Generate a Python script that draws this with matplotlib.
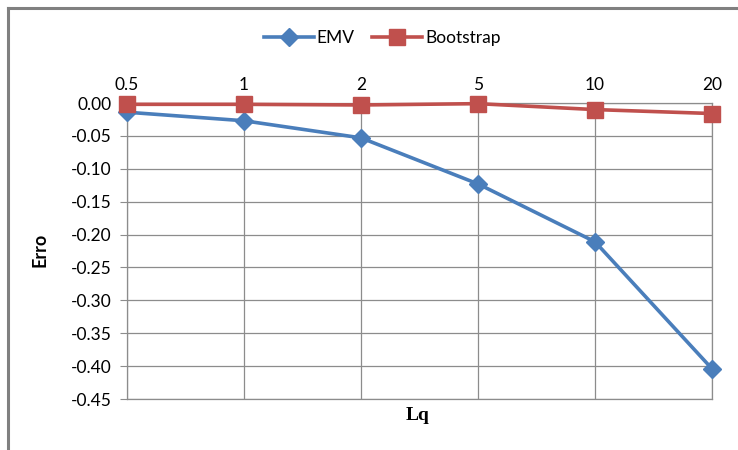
import matplotlib.pyplot as plt
from matplotlib.lines import Line2D

categories = ['0.5', '1', '2', '5', '10', '20']
emv = [-0.014, -0.027, -0.053, -0.123, -0.211, -0.404]
bootstrap = [-0.002, -0.002, -0.003, -0.001, -0.010, -0.016]
y_ticks = [0.00, -0.05, -0.10, -0.15, -0.20, -0.25, -0.30, -0.35, -0.40, -0.45]

grid_color = '#8c8c8c'
blue = '#4a7ebb'
red = '#c0504d'

fig = plt.figure(figsize=(7.38, 4.5), dpi=100)
ax = fig.add_axes([127 / 738, 1 - 399 / 450, (712 - 127) / 738, (399 - 103) / 450])

x = list(range(len(categories)))
ax.plot(x, emv, color=blue, lw=2.6, marker='D', ms=9, label='EMV', zorder=3, clip_on=False)
ax.plot(x, bootstrap, color=red, lw=2.6, marker='s', ms=11, label='Bootstrap', zorder=4, clip_on=False)

ax.set_xlim(0, len(categories) - 1)
ax.set_ylim(-0.45, 0.0)
ax.set_yticks(y_ticks)
ax.set_yticklabels([f'{v:.2f}' for v in y_ticks], fontfamily='Lato', fontsize=12.5)
ax.set_xticks(x)
ax.set_xticklabels(categories, fontfamily='Lato', fontsize=12.5)
ax.xaxis.tick_top()
ax.tick_params(axis='x', length=0, pad=7)
ax.tick_params(axis='y', length=5, color=grid_color, pad=6)

ax.grid(True, color=grid_color, lw=0.9)
ax.set_axisbelow(True)
for s in ax.spines.values():
    s.set_color(grid_color)
    s.set_linewidth(0.9)

fig.text(40 / 738, 1 - 250 / 450, 'Erro', fontfamily='Lato', fontweight='bold',
         fontsize=13, rotation=90, ha='center', va='center')
fig.text(418 / 738, 1 - 416 / 450, 'Lq', fontfamily='Liberation Serif', fontweight='bold',
         fontsize=14, ha='center', va='center')

handles = [Line2D([], [], color=blue, lw=2.6, marker='D', ms=9),
           Line2D([], [], color=red, lw=2.6, marker='s', ms=11)]
fig.legend(handles, ['EMV', 'Bootstrap'], loc='center', bbox_to_anchor=(382 / 738, 1 - 38 / 450),
           ncol=2, frameon=False, prop={'family': 'Lato', 'size': 12.5},
           handlelength=2.9, handletextpad=0.15, columnspacing=1.0)

# chart border (top and left only visible)
fig.add_artist(Line2D([8 / 738, 8 / 738], [0, 1 - 7.5 / 450], color='#808080', lw=2.2))
fig.add_artist(Line2D([8 / 738, 1], [1 - 7.5 / 450, 1 - 7.5 / 450], color='#808080', lw=2.2))

fig.savefig('out.png', dpi=100)
